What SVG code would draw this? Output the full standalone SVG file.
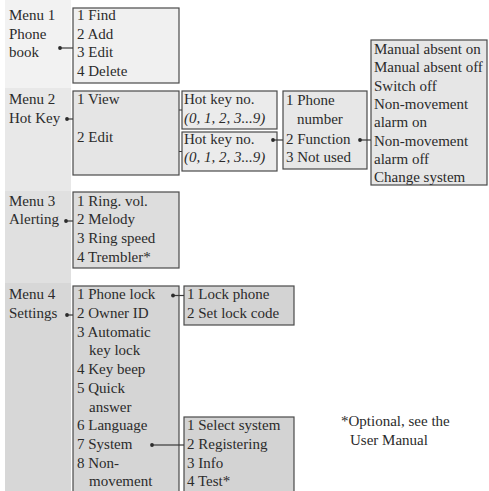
<svg xmlns="http://www.w3.org/2000/svg" width="489" height="491" viewBox="0 0 489 491">
<style>
text{font-family:"Liberation Serif","Times New Roman",serif;font-size:15px;fill:#2b2b2b}
.it{font-style:italic}
.box{stroke:#4a4a4a;stroke-width:1.2}
.ln{stroke:#3a3a3a;stroke-width:1.2;fill:none}
.dot{fill:#2b2b2b}
</style>
<rect width="489" height="491" fill="#ffffff"/>
<g id="bands">
<rect x="5" y="0" width="66" height="88" fill="#f2f2f2"/>
<rect x="5" y="88" width="66" height="103" fill="#e8e8e8"/>
<rect x="5" y="191" width="66" height="92" fill="#e0e0e0"/>
<rect x="5" y="283" width="66" height="208" fill="#d7d7d7"/>
</g>
<g id="menu1">
<text x="9" y="20">Menu 1</text><text x="9" y="38.7">Phone</text><text x="9" y="57.3">book</text>
<rect class="box" x="73" y="8" width="106" height="75" fill="#f0f0f0"/>
<text x="77" y="20">1 Find</text><text x="77" y="38.7">2 Add</text><text x="77" y="57.3">3 Edit</text><text x="77" y="76">4 Delete</text>
</g>
<g id="menu2">
<text x="9" y="104">Menu 2</text><text x="9" y="122.6">Hot Key</text>
<rect class="box" x="73" y="91" width="106" height="84" fill="#e5e5e5"/>
<text x="77" y="104">1 View</text><text x="77" y="142">2 Edit</text>
</g>
<g id="hotkey1">
<rect class="box" x="182" y="91" width="95" height="38" fill="#ebebeb"/>
<text x="184" y="104">Hot key no.</text><text class="it" x="184" y="122.5">(0, 1, 2, 3...9)</text>
</g>
<g id="hotkey2">
<rect class="box" x="182" y="132" width="95" height="39" fill="#ebebeb"/>
<text x="184" y="143.5">Hot key no.</text><text class="it" x="184" y="162">(0, 1, 2, 3...9)</text>
</g>
<g id="phone">
<rect class="box" x="283" y="91" width="84" height="78" fill="#e7e7e7"/>
<text x="286" y="105">1 Phone</text><text x="297" y="124">number</text><text x="286" y="143.5">2 Function</text><text x="286" y="162">3 Not used</text>
</g>
<g id="functions">
<rect class="box" x="371" y="40" width="116" height="145" fill="#e6e6e6"/>
<text x="374" y="54">Manual absent on</text>
<text x="374" y="72.3">Manual absent off</text>
<text x="374" y="90.6">Switch off</text>
<text x="374" y="108.9">Non-movement</text>
<text x="374" y="127.2">alarm on</text>
<text x="374" y="145.5">Non-movement</text>
<text x="374" y="163.8">alarm off</text>
<text x="374" y="182">Change system</text>
</g>
<g id="menu3">
<text x="9" y="205.5">Menu 3</text><text x="9" y="224.2">Alerting</text>
<rect class="box" x="73" y="192" width="106" height="76" fill="#dddddd"/>
<text x="77" y="205.5">1 Ring. vol.</text><text x="77" y="224.2">2 Melody</text><text x="77" y="242.9">3 Ring speed</text><text x="77" y="261.6">4 Trembler*</text>
</g>
<g id="menu4">
<text x="9" y="299.3">Menu 4</text><text x="9" y="318">Settings</text>
<rect class="box" x="73" y="286" width="106" height="210" fill="#d5d5d5"/>
<text x="77" y="299.3">1 Phone lock</text>
<text x="77" y="318">2 Owner ID</text>
<text x="77" y="336.7">3 Automatic</text>
<text x="89" y="355.4">key lock</text>
<text x="77" y="374.1">4 Key beep</text>
<text x="77" y="392.8">5 Quick</text>
<text x="89" y="411.5">answer</text>
<text x="77" y="430.2">6 Language</text>
<text x="77" y="448.9">7 System</text>
<text x="77" y="467.6">8 Non-</text>
<text x="89" y="486.3">movement</text>
</g>
<g id="lock">
<rect class="box" x="184" y="286" width="110" height="39" fill="#d3d3d3"/>
<text x="187" y="299.3">1 Lock phone</text><text x="187" y="318">2 Set lock code</text>
</g>
<g id="system">
<rect class="box" x="184" y="417" width="110" height="80" fill="#d3d3d3"/>
<text x="187" y="430.2">1 Select system</text><text x="187" y="448.9">2 Registering</text><text x="187" y="467.6">3 Info</text><text x="187" y="486.3">4 Test*</text>
</g>
<g id="note">
<text x="341" y="426">*Optional, see the</text>
<text x="350" y="445">User Manual</text>
</g>
<g id="connectors">
<path class="ln" d="M60 48H73"/><circle class="dot" cx="60" cy="48" r="1.9"/>
<path class="ln" d="M67 119H73"/><circle class="dot" cx="67" cy="119" r="1.9"/>
<path class="ln" d="M179 110H182M179 151.5H182"/>
<path class="ln" d="M273 140H283"/><circle class="dot" cx="273" cy="140" r="1.9"/>
<path class="ln" d="M360 140H371"/><circle class="dot" cx="360" cy="140" r="1.9"/>
<path class="ln" d="M66 221H73"/><circle class="dot" cx="66" cy="221" r="1.9"/>
<path class="ln" d="M67 315H73"/><circle class="dot" cx="67" cy="315" r="1.9"/>
<path class="ln" d="M173 295.5H184"/><circle class="dot" cx="173" cy="295.5" r="1.9"/>
<path class="ln" d="M152 445H184"/><circle class="dot" cx="152" cy="445" r="1.9"/>
</g>
</svg>
